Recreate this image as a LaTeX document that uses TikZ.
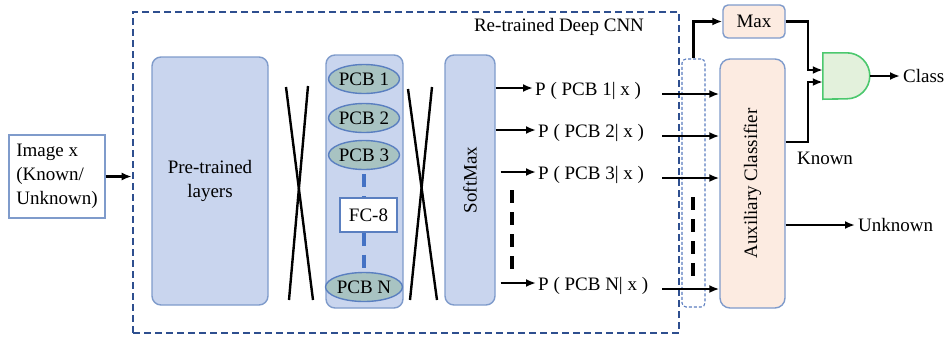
\documentclass[tikz,border=0pt]{standalone}
\usepackage{fontspec}
\setmainfont{Liberation Serif}
\usepackage{graphicx}
\usetikzlibrary{arrows.meta,shapes.geometric,calc}

\definecolor{panelfill}{HTML}{C9D5EE}
\definecolor{paneledge}{HTML}{7F9BCB}
\definecolor{cnnedge}{HTML}{2E4F8F}
\definecolor{tapedge}{HTML}{5B7DBF}
\definecolor{pcbfill}{HTML}{A8C3C2}
\definecolor{pcbedge}{HTML}{5A7FC0}
\definecolor{fcdash}{HTML}{4472C4}
\definecolor{peachfill}{HTML}{FCEBE1}
\definecolor{gatefill}{HTML}{E3F1DC}
\definecolor{gateedge}{HTML}{4CC86E}

\tikzset{
  panel/.style={draw=paneledge, fill=panelfill, rounded corners=9pt, line width=1.4pt, inner sep=0pt},
  peach/.style={draw=paneledge, fill=peachfill, line width=1.4pt, inner sep=0pt},
  pcb/.style={ellipse, draw=pcbedge, fill=pcbfill, line width=1.4pt, minimum width=70pt, minimum height=29pt, inner sep=0pt},
  arr/.style={line width=2.6pt, -{Latex[length=10pt,width=8pt]}},
  xline/.style={line width=2.4pt},
  blackdash/.style={line width=3.6pt, dash pattern=on 13pt off 9pt},
  bluedash/.style={draw=fcdash, line width=3.4pt, dash pattern=on 13pt off 9pt},
  lbl/.style={anchor=west, inner sep=2pt},
  andgate/.style={draw=gateedge, fill=gatefill, line width=1.6pt}
}

\begin{document}
\begin{tikzpicture}[x=1pt, y=-1pt, font=\fontsize{19}{24}\selectfont]
\useasboundingbox (0,0) rectangle (952,338);

% input image
\node[draw=paneledge, fill=white, line width=1.4pt, minimum width=96pt, minimum height=83pt, align=left, inner sep=2pt] (img) at (57,176.5) {Image x\\(Known/\\Unknown)};

% re-trained network frame
\node[draw=cnnedge, line width=2.6pt, dash pattern=on 7pt off 4pt, minimum width=546pt, minimum height=321pt, inner sep=0pt] (cnn) at (406,172.5) {};
\node (cnnlbl) at (559,27) {Re-trained Deep CNN};
\draw[arr] (img.east) -- (img.east -| cnn.west);

% pre-trained layers
\node[panel, minimum width=116pt, minimum height=248pt, align=center] (pre) at (210,181) {Pre-trained\\layers};

% crossed-out connections
\draw[xline] (286,87) -- (313,300);
\draw[xline] (308,86) -- (289,300);
\draw[xline] (408,89) -- (437,300);
\draw[xline] (432,87) -- (410,300);

% FC-8 column
\node[panel, minimum width=77pt, minimum height=253pt] (col) at (364.5,181.5) {};
\node[pcb] (p1) at (364,79) {PCB 1};
\node[pcb] (p2) at (364,118) {PCB 2};
\node[pcb] (p3) at (364,155) {PCB 3};
\node[pcb] (pN) at (364,287) {PCB N};
\node[draw=pcbedge, fill=white, line width=1.2pt, minimum width=57pt, minimum height=34pt, inner sep=0pt] (fc) at (368.5,215) {FC-8};
\draw[bluedash] ([yshift=-4pt]p3.south) -- (p3.south |- fc.north);
\draw[bluedash] (p3.south |- fc.south) -- (pN.north);

% softmax
\node[panel, minimum width=50pt, minimum height=250pt] (sm) at (470,180) {\rotatebox{90}{SoftMax}};

% class probabilities
\node[lbl] (l1) at (533,91) {P ( PCB 1| x )};
\node[lbl] (l2) at (536,133) {P ( PCB 2| x )};
\node[lbl] (l3) at (536,175) {P ( PCB 3| x )};
\node[lbl] (lN) at (536,286) {P ( PCB N| x )};

\draw[arr] ([yshift=3pt]l1.west -| sm.east) -- ([yshift=3pt]l1.west);
\draw[arr] ([yshift=3pt]l2.west -| sm.east) -- ([yshift=3pt]l2.west);
\draw[arr] ([xshift=5pt,yshift=3pt]l3.west -| sm.east) -- ([yshift=3pt]l3.west);
\draw[arr] ([xshift=5pt,yshift=3pt]lN.west -| sm.east) -- ([yshift=3pt]lN.west);
\coordinate (gapA) at (512,190);
\coordinate (gapB) at (512,272);
\draw[blackdash] (gapA) -- (gapB);

% tap towards the max block
\node[draw=tapedge, line width=1.1pt, dash pattern=on 3pt off 2pt, rounded corners=4pt, minimum width=23pt, minimum height=248pt, inner sep=0pt] (tap) at (693.5,183) {};

% auxiliary classifier and max
\node[peach, rounded corners=10pt, minimum width=65pt, minimum height=249pt] (aux) at (752.5,183.5) {\rotatebox{90}{Auxiliary Classifier}};
\node[peach, rounded corners=5pt, minimum width=62pt, minimum height=33pt] (mx) at (754,21.5) {Max};

\coordinate (tapx) at (662,0);
\draw[arr] ([yshift=-3pt]l1.east -| tapx) -- ([yshift=-3pt]l1.east -| aux.west);
\draw[arr] ([yshift=-3pt]l2.east -| tapx) -- ([yshift=-3pt]l2.east -| aux.west);
\draw[arr] ([yshift=-3pt]l3.east -| tapx) -- ([yshift=-3pt]l3.east -| aux.west);
\draw[arr] ([yshift=-3pt]lN.east -| tapx) -- ([yshift=-3pt]lN.east -| aux.west);
\coordinate (gapC) at (693,197);
\coordinate (gapD) at (693,279);
\draw[blackdash] (gapC) -- (gapD);

\draw[arr] (tap.north) |- (mx.west);

% decision gate: flat back, round front
\node[minimum width=47pt, minimum height=46pt, inner sep=0pt] (gate) at (846.5,76) {};
\draw[andgate] (gate.north west) -- ([xshift=24pt]gate.north west)
  arc[start angle=90, end angle=-90, radius=23pt] -- (gate.south west) -- cycle;
\coordinate (jx) at (808,0);
\coordinate (kn) at (aux.east |- 0,142);
\draw[arr] (mx.east) -- (mx.east -| jx) -- ([yshift=6pt]gate.west -| jx) -- ([yshift=6pt]gate.west);
\draw[arr] (kn) -- (kn -| jx) -- ([yshift=-6pt]gate.west -| jx) -- ([yshift=-6pt]gate.west);
\node (known) at (825,158) {Known};

\node[lbl, inner sep=3pt] (cls) at (900,76) {Class};
\draw[arr] (gate.east) -- (cls.west);

\node[lbl, inner sep=3pt] (unk) at (855,225) {Unknown};
\draw[arr] (aux.east |- unk.west) -- (unk.west);
\end{tikzpicture}
\end{document}
